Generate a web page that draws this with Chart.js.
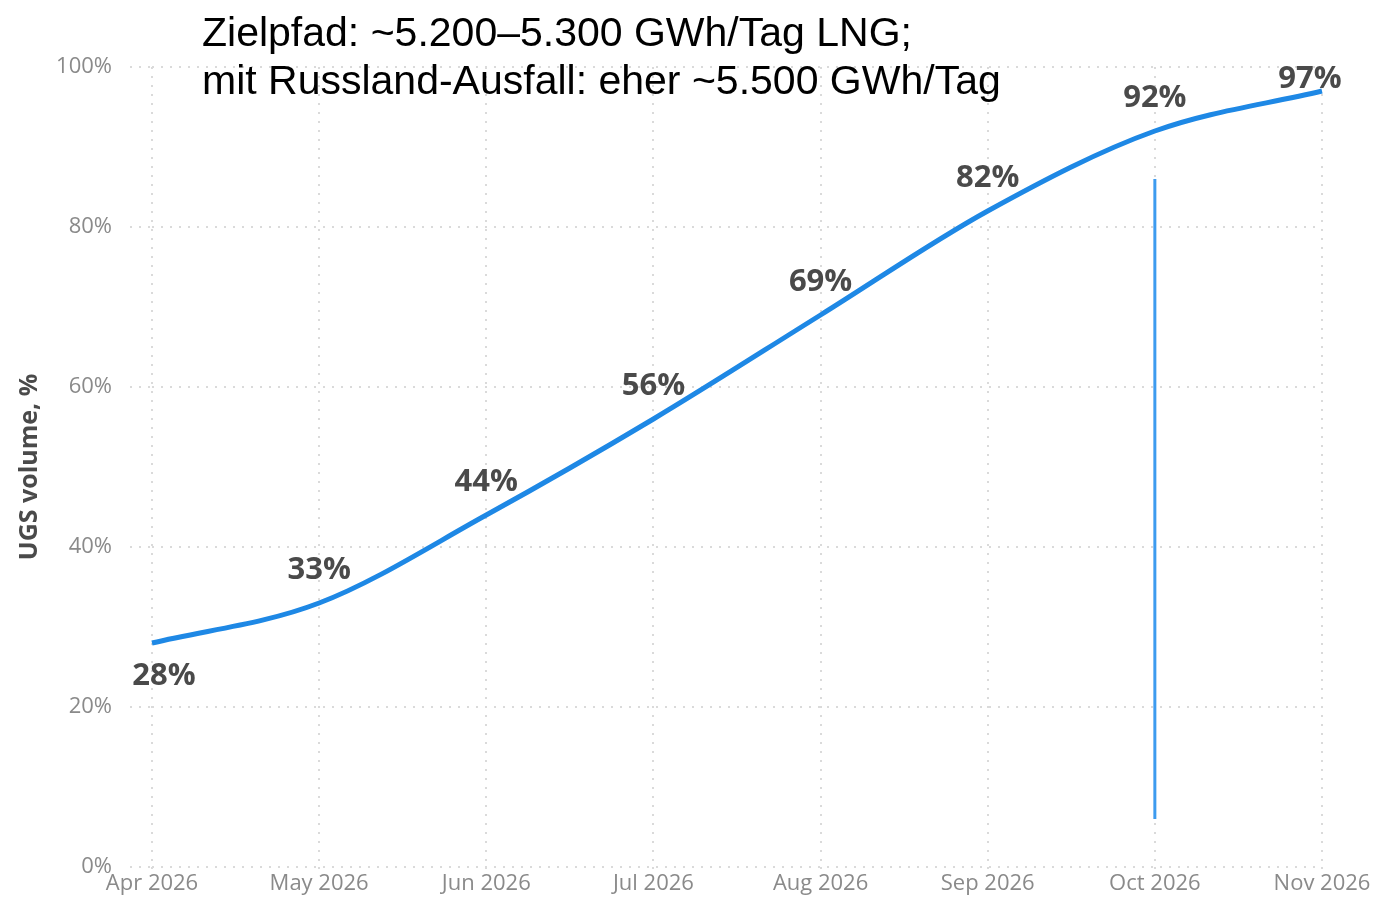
<!DOCTYPE html>
<html>
<head>
<meta charset="utf-8">
<script src="https://cdn.jsdelivr.net/npm/chart.js@4.4.1/dist/chart.umd.min.js"></script>
<style>
  html, body { margin: 0; padding: 0; background: #fff; }
  #wrap { position: relative; width: 1376px; height: 903px; }
  #note {
    position: absolute; left: 202px; top: 8px;
    font-family: "Liberation Sans", Arial, sans-serif;
    font-size: 41px; line-height: 48px; color: #000;
    pointer-events: none;
  }
</style>
</head>
<body>
<div id="wrap">
  <canvas id="ugsChart" width="1376" height="903"></canvas>
  <div id="note">Zielpfad: ~5.200–5.300 GWh/Tag LNG;<br>mit Russland-Ausfall: eher ~5.500 GWh/Tag</div>
</div>
<script>
const months = ['Apr 2026', 'May 2026', 'Jun 2026', 'Jul 2026', 'Aug 2026', 'Sep 2026', 'Oct 2026', 'Nov 2026'];
const ugsVolume = [28, 33, 44, 56, 69, 82, 92, 97];
const markerMonth = 'Oct 2026';
const markerRange = [86, 6];
const yTicks = [0, 20, 40, 60, 80, 100];

// draws the bold % labels next to each point of the main line
const pointLabels = {
  id: 'pointLabels',
  afterDatasetsDraw(chart) {
    const ctx = chart.ctx;
    const meta = chart.getDatasetMeta(0);
    ctx.save();
    ctx.font = 'bold 31px "Open Sans", sans-serif';
    ctx.fillStyle = '#4a4a4a';
    ctx.textAlign = 'center';
    ctx.textBaseline = 'middle';
    meta.data.forEach((pt, i) => {
      let x = pt.x, y = pt.y - 33;
      if (i === 0) { x += 12; y = pt.y + 33; }
      if (i === meta.data.length - 1) { x -= 12; y = pt.y - 12; }
      ctx.fillText(ugsVolume[i] + '%', x, y);
    });
    ctx.restore();
  }
};

const dots = [2, 7];

const chart = new Chart(document.getElementById('ugsChart'), {
  type: 'line',
  data: {
    labels: months,
    datasets: [{
      data: ugsVolume,
      borderColor: '#1e88e5',
      borderWidth: 5,
      pointRadius: 0,
      cubicInterpolationMode: 'monotone',
      fill: false
    }, {
      data: markerRange.map(v => ({ x: markerMonth, y: v })),
      borderColor: '#3d9bef',
      borderWidth: 3,
      pointRadius: 0,
      fill: false
    }]
  },
  options: {
    responsive: false,
    animation: false,
    layout: { padding: { top: 67, right: 54, left: 0, bottom: 0 } },
    plugins: { legend: { display: false }, tooltip: { enabled: false } },
    scales: {
      x: {
        offset: false,
        grid: { color: '#dadada', lineWidth: 2, tickLength: 4, tickBorderDash: dots },
        border: { display: false, dash: dots },
        ticks: { color: '#8a8a8a', font: { family: '"Open Sans", sans-serif', size: 22 }, padding: 0, maxRotation: 0 },
        afterFit(scale) { scale.height = 36; }
      },
      y: {
        min: 0, max: 100,
        afterBuildTicks(scale) { scale.ticks = yTicks.map(v => ({ value: v })); },
        grid: { color: '#dadada', lineWidth: 2, tickLength: 22, tickBorderDash: dots },
        border: { display: false, dash: dots },
        ticks: {
          color: '#8a8a8a', padding: 18,
          font: { family: '"Open Sans", sans-serif', size: 22 },
          callback: v => v + '%'
        },
        title: {
          display: true, text: 'UGS volume, %', color: '#4a4a4a',
          font: { family: '"Open Sans", sans-serif', size: 25, weight: 'bold' },
          padding: { top: 15, bottom: 0 }
        },
        afterFit(scale) { scale.width = 152; }
      }
    }
  },
  plugins: [pointLabels]
});
</script>
</body>
</html>
